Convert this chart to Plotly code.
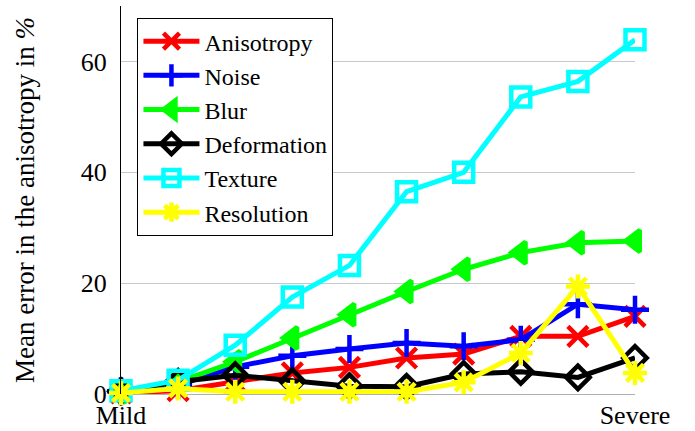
import plotly.graph_objects as go

# Severity levels from mild to severe
levels = [1, 2, 3, 4, 5, 6, 7, 8, 9, 10]
tick_vals = [1, 10]
tick_text = ["Mild", "Severe"]

# Mean error in the anisotropy (%) per distortion type
anisotropy = [0.2, 0.6, 2.2, 3.8, 4.8, 6.5, 7.2, 10.4, 10.4, 14.0]
noise = [0.5, 1.6, 4.9, 6.9, 8.1, 9.2, 8.6, 9.8, 16.2, 15.2]
blur = [0.4, 2.2, 5.8, 10.1, 14.3, 18.5, 22.5, 25.5, 27.3, 27.6]
deformation = [0.5, 2.2, 3.4, 2.3, 1.4, 1.3, 3.6, 4.0, 3.0, 6.5]
texture = [0.6, 2.5, 8.8, 17.5, 23.2, 36.5, 40.0, 53.6, 56.4, 63.9]
resolution = [0.2, 1.0, 0.4, 0.4, 0.4, 0.4, 2.1, 7.4, 19.4, 3.8]

series = [
    ("Anisotropy", anisotropy, "#ff0000", "x-thin-open", 20),
    ("Noise", noise, "#0000ff", "cross-thin-open", 20),
    ("Blur", blur, "#00ff00", "triangle-left", 19),
    ("Deformation", deformation, "#000000", "diamond-open", 18),
    ("Texture", texture, "#00ffff", "square-open", 19),
    ("Resolution", resolution, "#ffff00", "asterisk-open", 20),
]

fig = go.Figure()
for name, vals, color, symbol, size in series:
    fig.add_trace(go.Scatter(
        x=levels, y=vals, name=name, mode="lines+markers",
        line=dict(color=color, width=5),
        marker=dict(symbol=symbol, size=size, color=color,
                    line=dict(color=color, width=4.5)),
        cliponaxis=False,
    ))

serif = "Liberation Serif, Times New Roman, serif"
fs = 26
fig.update_layout(
    width=695, height=431,
    margin=dict(l=121, r=60, t=6, b=37),
    plot_bgcolor="white", paper_bgcolor="white",
    font=dict(family=serif, size=fs, color="black"),
    showlegend=True,
    legend=dict(
        x=0.032, y=0.969, xanchor="left", yanchor="top",
        bgcolor="white", bordercolor="black", borderwidth=1,
        font=dict(family=serif, size=24), tracegroupgap=0,
        itemwidth=56,
    ),
    xaxis=dict(
        range=[1, 10], tickmode="array", tickvals=tick_vals, ticktext=tick_text,
        showgrid=False, zeroline=False, showline=False, ticks="",
        tickfont=dict(family=serif, size=fs), ticklabelstandoff=3,
        automargin=False,
    ),
    yaxis=dict(
        range=[0, 70], tickmode="array", tickvals=[0, 20, 40, 60],
        showgrid=True, gridcolor="#c8c8c8", gridwidth=1,
        zeroline=True, zerolinecolor="#b0b0b0", zerolinewidth=1,
        showline=True, linecolor="black", linewidth=1, ticks="",
        tickfont=dict(family=serif, size=fs), ticklabelstandoff=8,
        automargin=False,
        title=dict(text="Mean error in the anisotropy in <i>%</i>",
                   font=dict(family=serif, size=27), standoff=38),
    ),
)

fig.write_html("out.html")
